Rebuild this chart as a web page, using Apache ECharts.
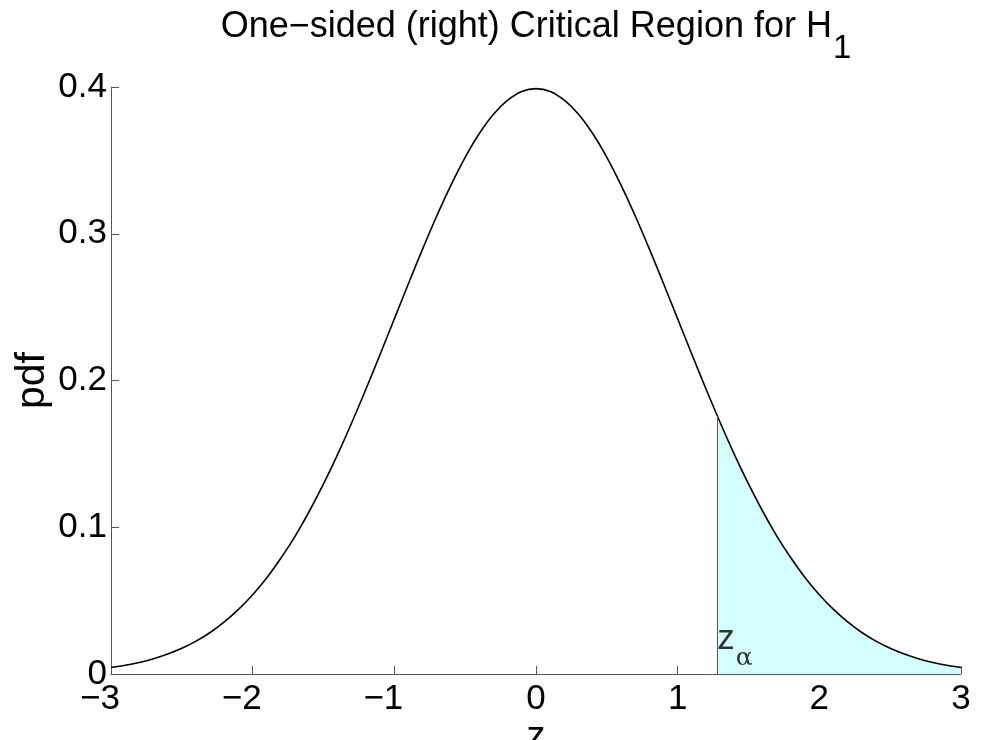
<!DOCTYPE html>
<html>
<head>
<meta charset="utf-8">
<script src="https://cdn.jsdelivr.net/npm/echarts@6/dist/echarts.min.js"></script>
<style>
  html, body { margin: 0; padding: 0; background: #fff; }
  #chart { width: 982px; height: 740px; }
</style>
</head>
<body>
<div id="chart"></div>
<script>
// z values and pdf
const zValues = [-3, -2.9, -2.8, -2.7, -2.6, -2.5, -2.4, -2.3, -2.2, -2.1, -2, -1.9, -1.8, -1.7, -1.6,
    -1.5, -1.4, -1.3, -1.2, -1.1, -1, -0.9, -0.8, -0.7, -0.6, -0.5, -0.4, -0.3, -0.2, -0.1,
    0, 0.1, 0.2, 0.3, 0.4, 0.5, 0.6, 0.7, 0.8, 0.9, 1, 1.1, 1.2, 1.3, 1.4,
    1.5, 1.6, 1.7, 1.8, 1.9, 2, 2.1, 2.2, 2.3, 2.4, 2.5, 2.6, 2.7, 2.8, 2.9, 3];
const pdfValues = [0.0044, 0.006, 0.0079, 0.0104, 0.0136, 0.0175, 0.0224, 0.0283, 0.0355, 0.044, 0.054,
    0.0656, 0.079, 0.094, 0.1109, 0.1295, 0.1497, 0.1714, 0.1942, 0.2179, 0.242, 0.2661, 0.2897,
    0.3123, 0.3332, 0.3521, 0.3683, 0.3814, 0.391, 0.397,
    0.3989, 0.397, 0.391, 0.3814, 0.3683, 0.3521, 0.3332, 0.3123, 0.2897, 0.2661, 0.242, 0.2179,
    0.1942, 0.1714, 0.1497, 0.1295, 0.1109, 0.094, 0.079, 0.0656, 0.054, 0.044, 0.0355, 0.0283,
    0.0224, 0.0175, 0.0136, 0.0104, 0.0079, 0.006, 0.0044];

// critical region (shaded tail)
const zAlpha = 1.28;
const tailZ = [1.28, 1.3, 1.4, 1.5, 1.6, 1.7, 1.8, 1.9, 2, 2.1, 2.2, 2.3, 2.4, 2.5, 2.6, 2.7, 2.8, 2.9, 3];
const tailPdf = [0.1758, 0.1714, 0.1497, 0.1295, 0.1109, 0.094, 0.079, 0.0656, 0.054, 0.044, 0.0355,
    0.0283, 0.0224, 0.0175, 0.0136, 0.0104, 0.0079, 0.006, 0.0044];

const xTicks = [-3, -2, -1, 0, 1, 2, 3];
const yTicks = [0, 0.1, 0.2, 0.3, 0.4];

const font = 'Liberation Sans, Helvetica, Arial, sans-serif';
const axisColor = '#555';

const chart = echarts.init(document.getElementById('chart'));

const curve = zValues.map((z, i) => [z, pdfValues[i]]);
const tail = tailZ.map((z, i) => [z, tailPdf[i]]);

chart.setOption({
    animation: false,
    title: {
        text: 'One\u2212sided (right) Critical Region for H{sub|1}',
        left: 531,
        textAlign: 'center',
        top: 4,
        textStyle: {
            fontFamily: font,
            fontSize: 36,
            fontWeight: 'normal',
            color: '#000',
            rich: {
                sub: { fontFamily: font, fontSize: 33, color: '#000', verticalAlign: 'bottom', padding: [0, 0, -20, 1] }
            }
        }
    },
    grid: { left: 111, right: 21, top: 87, bottom: 66, outerBoundsMode: 'none', containLabel: false },
    xAxis: {
        type: 'value',
        min: -3,
        max: 3,
        interval: 1,
        name: 'z',
        nameLocation: 'middle',
        nameGap: 45,
        nameMoveOverlap: false,
        nameTextStyle: { fontFamily: font, fontSize: 38, color: '#000' },
        axisLine: { onZero: false, lineStyle: { color: axisColor, width: 1 } },
        axisTick: { inside: true, length: 8, lineStyle: { color: axisColor } },
        axisLabel: {
            fontFamily: font, fontSize: 35, color: '#000', margin: 8,
            formatter: v => {
                if (!xTicks.includes(v)) return '';
                // negative labels sit a bit left of their tick in the original
                return v < 0 ? '{neg|' + String(v).replace('-', '\u2212') + '}' : String(v);
            },
            rich: {
                neg: { fontFamily: font, fontSize: 35, color: '#000', padding: [0, 22, 0, 0] }
            }
        },
        splitLine: { show: false }
    },
    yAxis: {
        type: 'value',
        min: 0,
        max: 0.4,
        interval: 0.1,
        name: 'pdf',
        nameLocation: 'middle',
        nameGap: 58,
        nameMoveOverlap: false,
        nameRotate: 90,
        nameTextStyle: { fontFamily: font, fontSize: 41, color: '#000' },
        axisLine: { onZero: false, lineStyle: { color: axisColor, width: 1 } },
        axisTick: { inside: true, length: 8, lineStyle: { color: axisColor } },
        axisLabel: {
            fontFamily: font, fontSize: 35, color: '#000', margin: 4,
            formatter: v => {
                const t = yTicks.find(y => Math.abs(y - v) < 1e-9);
                return t === undefined ? '' : String(t);
            }
        },
        splitLine: { show: false }
    },
    series: [
        {
            // shaded tail
            type: 'line',
            data: tail,
            smooth: 0.3,
            symbol: 'none',
            lineStyle: { width: 0 },
            areaStyle: { color: '#d4ffff', opacity: 1, origin: 'start' },
            markLine: {
                silent: true,
                symbol: 'none',
                label: { show: false },
                lineStyle: { color: axisColor, width: 1, type: 'solid' },
                data: [
                    [{ coord: [zAlpha, 0] }, { coord: [zAlpha, tailPdf[0]] }],
                    [{ coord: [3, 0] }, { coord: [3, tailPdf[tailPdf.length - 1]] }]
                ]
            },
            z: 1
        },
        {
            type: 'line',
            data: curve,
            smooth: 0.3,
            symbol: 'none',
            lineStyle: { color: '#000', width: 1.6 },
            z: 3
        },
        {
            // z_alpha label: "z" then subscript alpha
            type: 'scatter',
            data: [[zAlpha, 0.0236]],
            symbolSize: 0,
            label: {
                show: true, position: 'right', distance: 0,
                formatter: 'z',
                fontFamily: font, fontSize: 35, color: '#000'
            },
            z: 4
        },
        {
            type: 'scatter',
            data: [[1.41, 0.0103]],
            symbolSize: 0,
            label: {
                show: true, position: 'right', distance: 0,
                formatter: '\u03b1',
                fontFamily: 'DejaVu Serif, serif', fontSize: 25, color: '#000'
            },
            z: 4
        }
    ]
});
</script>
</body>
</html>
